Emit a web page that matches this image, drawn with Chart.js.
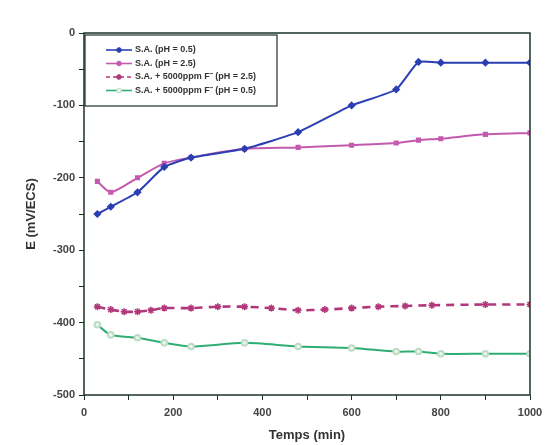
<!DOCTYPE html>
<html>
<head>
<meta charset="utf-8">
<script src="https://cdn.jsdelivr.net/npm/chart.js@4"></script>
<style>
  body { margin: 0; background: #fff; }
  #wrap { width: 553px; height: 445px; }
</style>
</head>
<body>
<div id="wrap"><canvas id="chart" width="553" height="445"></canvas></div>
<script>
// time in minutes, potential in mV/ECS
const seriesNames = [
  "S.A. (pH = 0.5)",
  "S.A. (pH = 2.5)",
  "S.A. + 5000ppm F\u207B (pH = 2.5)",
  "S.A. + 5000ppm F\u207B (pH = 0.5)"
];
const timeMain = [30, 60, 120, 180, 240, 360, 480, 600, 700, 750, 800, 900, 1000];
const potBlue = [-250, -240, -220, -185, -172, -160, -137, -100, -78, -40, -41, -41, -41];
const potMagenta = [-205, -220, -200, -180, -172, -160, -158, -155, -152, -148, -146, -140, -138];
const timeDashed = [30, 60, 90, 120, 150, 180, 240, 300, 360, 420, 480, 540, 600, 660, 720, 780, 900, 1000];
const potDashed = [-378, -382, -385, -385, -383, -380, -380, -378, -378, -380, -383, -382, -380, -378, -377, -376, -375, -375];
const potGreen = [-403, -417, -421, -428, -433, -428, -433, -435, -440, -440, -443, -443, -443];
const xTicks = [0, 200, 400, 600, 800, 1000];
const yTicks = [0, -100, -200, -300, -400, -500];

function pts(xs, ys) {
  return xs.map(function (x, i) { return { x: x, y: ys[i] }; });
}

const colors = ["#2b3fb3", "#c45aae", "#b2387c", "#2fae73"];

// frame round the plot + boxed legend in the upper left corner
const framePlugin = {
  id: "frame",
  afterDatasetsDraw(chart) {
    const a = chart.chartArea, ctx = chart.ctx;
    ctx.save();
    ctx.strokeStyle = "#1d3327";
    ctx.lineWidth = 1.5;
    ctx.strokeRect(a.left, a.top, a.right - a.left, a.bottom - a.top);

    const bx = a.left + 1, by = a.top + 2;
    ctx.fillStyle = "#fff";
    ctx.fillRect(bx, by, 192, 71);
    ctx.lineWidth = 1.2;
    ctx.strokeRect(bx, by, 192, 71);
    ctx.font = "bold 9px 'Liberation Sans'";
    ctx.textBaseline = "middle";
    chart.data.datasets.forEach(function (ds, i) {
      const y = by + 15 + i * 13.5;
      const x0 = bx + 21, x1 = bx + 47;
      ctx.strokeStyle = ds.borderColor;
      ctx.lineWidth = 1.6;
      ctx.setLineDash(ds.borderDash ? [4, 3] : []);
      ctx.beginPath(); ctx.moveTo(x0, y); ctx.lineTo(x1, y); ctx.stroke();
      ctx.setLineDash([]);
      ctx.fillStyle = ds.pointBackgroundColor;
      ctx.strokeStyle = ds.pointBorderColor;
      ctx.lineWidth = 1;
      ctx.beginPath(); ctx.arc((x0 + x1) / 2, y, 2.3, 0, Math.PI * 2); ctx.fill(); ctx.stroke();
      ctx.fillStyle = "#333";
      ctx.fillText(ds.label, x1 + 3, y);
    });
    ctx.restore();
  }
};

const ctx = document.getElementById("chart").getContext("2d");
new Chart(ctx, {
  type: "line",
  data: {
    datasets: [
      {
        label: seriesNames[0], data: pts(timeMain, potBlue),
        borderColor: colors[0], borderWidth: 2, tension: 0.15,
        pointStyle: "rectRot", pointRadius: 2.7,
        pointBackgroundColor: colors[0], pointBorderColor: colors[0]
      },
      {
        label: seriesNames[1], data: pts(timeMain, potMagenta),
        borderColor: colors[1], borderWidth: 2, tension: 0.25,
        pointStyle: "rect", pointRadius: 2.2,
        pointBackgroundColor: colors[1], pointBorderColor: colors[1]
      },
      {
        label: seriesNames[2], data: pts(timeDashed, potDashed),
        borderColor: colors[2], borderWidth: 2.6, borderDash: [8, 6], tension: 0.2,
        pointStyle: "star", pointRadius: 3.5, pointBorderWidth: 1.6,
        pointBackgroundColor: colors[2], pointBorderColor: colors[2]
      },
      {
        label: seriesNames[3], data: pts(timeMain, potGreen),
        borderColor: colors[3], borderWidth: 2, tension: 0.25,
        pointStyle: "circle", pointRadius: 2.8,
        pointBackgroundColor: "#edf5ee", pointBorderColor: "#bcdcc4"
      }
    ]
  },
  options: {
    responsive: false,
    animation: false,
    layout: { padding: { top: 33, right: 23, left: 4, bottom: 0 } },
    plugins: {
      legend: { display: false },
      tooltip: { enabled: false }
    },
    scales: {
      x: {
        type: "linear", min: 0, max: 1000,
        afterBuildTicks: function (s) {
          s.ticks = [];
          for (let v = 0; v <= 1000; v += 100) s.ticks.push({ value: v });
        },
        afterFit: function (s) { s.height = 50; },
        grid: { drawOnChartArea: false, tickLength: 5, color: "#1d3327", lineWidth: 1 },
        border: { display: false },
        ticks: {
          maxRotation: 0, padding: 6, color: "#444",
          font: { family: "Liberation Sans", size: 11, weight: "bold" },
          callback: function (v) { return xTicks.indexOf(v) >= 0 ? String(v) : ""; }
        },
        title: {
          display: true, text: "Temps (min)", color: "#333",
          font: { family: "Liberation Sans", size: 13, weight: "bold" },
          padding: { top: 4, bottom: 2 }
        }
      },
      y: {
        min: -500, max: 0,
        afterBuildTicks: function (s) {
          s.ticks = [];
          for (let v = -500; v <= 0; v += 50) s.ticks.push({ value: v });
        },
        afterFit: function (s) { s.width = 80; },
        grid: { drawOnChartArea: false, tickLength: 5, color: "#1d3327", lineWidth: 1 },
        border: { display: false },
        ticks: {
          padding: 4, color: "#444",
          font: { family: "Liberation Sans", size: 11, weight: "bold" },
          callback: function (v) { return yTicks.indexOf(v) >= 0 ? String(v) : ""; }
        },
        title: {
          display: true, text: "E (mV/ECS)", color: "#333",
          font: { family: "Liberation Sans", size: 13, weight: "bold" },
          padding: { top: 20, bottom: 0 }
        }
      }
    }
  },
  plugins: [framePlugin]
});
</script>
</body>
</html>
